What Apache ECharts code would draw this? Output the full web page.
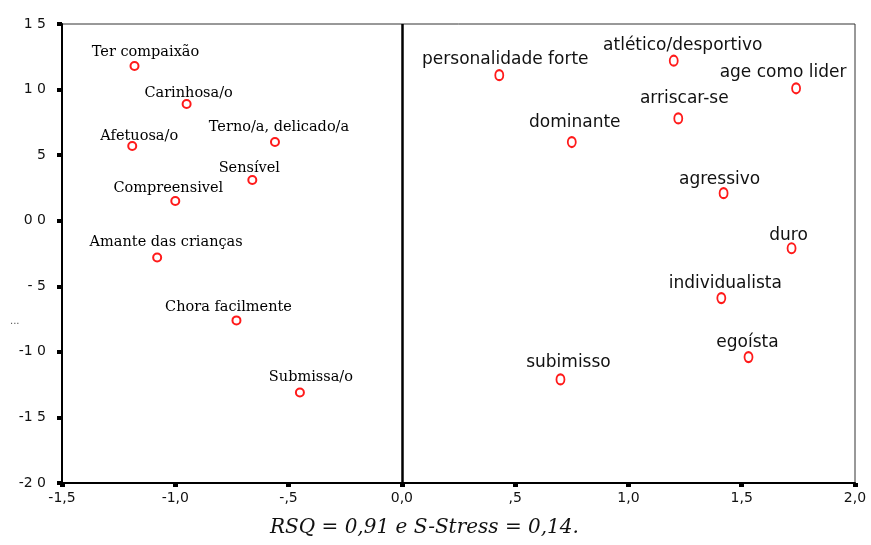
<!DOCTYPE html>
<html>
<head>
<meta charset="utf-8">
<script src="https://cdn.jsdelivr.net/npm/echarts@6/dist/echarts.min.js"></script>
<style>html,body{margin:0;padding:0;background:#fff}#c{width:871px;height:545px}</style>
</head>
<body>
<div id="c"></div>
<script>
// Feminine-typed attributes (serif labels)
const femTerms = ['Ter compaixão','Carinhosa/o','Terno/a, delicado/a','Afetuosa/o','Sensível','Compreensivel','Amante das crianças','Chora facilmente','Submissa/o'];
const femX = [-1.18,-0.95,-0.56,-1.19,-0.66,-1.00,-1.08,-0.73,-0.45];
const femY = [1.18,0.89,0.60,0.57,0.31,0.15,-0.28,-0.76,-1.31];
// Masculine-typed attributes (sans labels)
const mascTerms = ['personalidade forte','atlético/desportivo','age como lider','arriscar-se','dominante','agressivo','duro','individualista','egoísta','subimisso'];
const mascX = [0.43,1.20,1.74,1.22,0.75,1.42,1.72,1.41,1.53,0.70];
const mascY = [1.11,1.22,1.01,0.78,0.60,0.21,-0.21,-0.59,-1.04,-1.21];
// Tick labels as printed
const xTickValues = [-1.5,-1.0,-0.5,0,0.5,1.0,1.5,2.0];
const xTickLabels = ['-1,5','-1,0','-,5','0,0',',5','1,0','1,5','2,0'];
const yTickValues = [-2.0,-1.5,-1.0,-0.5,0,0.5,1.0,1.5];
const yTickLabels = ['-2 0','-1 5','-1 0','- 5','0 0','5','1 0','1 5'];
const caption = 'RSQ = 0,91 e S-Stress = 0,14.';

// label offsets (style only)
const femOffsets = [[11,-14],[2,-11],[4,-15],[7,-10],[-3,-12],[-7,-13],[9,-15],[-8,-13],[11,-15]];
const mascOffsets = [[6,-16],[9,-15],[-13,-16],[6,-20],[3,-19],[-4,-14],[-3,-13],[4,-15],[-1,-15],[8,-17]];

function lookup(vals, labs, v){
  for (let i=0;i<vals.length;i++) if (Math.abs(vals[i]-v)<1e-6) return labs[i];
  return '';
}
function build(terms, xs, ys, offs){
  return terms.map((t,i)=>({name:t, value:[xs[i],ys[i]], label:{offset:offs[i]}}));
}

const chart = echarts.init(document.getElementById('c'), null, {renderer:'canvas'});
const markerStyle = {color:'#ff1a1a', borderColor:'#ff1a1a', borderWidth:1.5, opacity:1};
chart.setOption({
  animation:false,
  backgroundColor:'#fff',
  grid:{left:62,right:16,top:24,bottom:62,show:true,borderColor:'#333',borderWidth:1,backgroundColor:'transparent'},
  xAxis:{type:'value',min:-1.5,max:2.0,interval:0.5,
    axisLine:{show:true,onZero:false,lineStyle:{color:'#000',width:2}},
    axisTick:{show:true,length:4,lineStyle:{color:'#000',width:5}},
    splitLine:{show:false},
    axisLabel:{margin:8,color:'#111',fontFamily:'DejaVu Sans',fontSize:14,formatter:v=>lookup(xTickValues,xTickLabels,v)}},
  yAxis:{type:'value',min:-2.0,max:1.5,interval:0.5,
    axisLine:{show:true,onZero:false,lineStyle:{color:'#000',width:2}},
    axisTick:{show:true,length:5,lineStyle:{color:'#000',width:4}},
    splitLine:{show:false},
    axisLabel:{margin:16,color:'#111',fontFamily:'DejaVu Sans',fontSize:14,formatter:v=>lookup(yTickValues,yTickLabels,v)}},
  series:[
    {type:'scatter',symbol:'emptyCircle',symbolSize:[8,8],itemStyle:markerStyle,
     emphasis:{disabled:true},
     data:build(femTerms,femX,femY,femOffsets),
     label:{show:true,position:'inside',formatter:'{b}',color:'#000',opacity:1,fontFamily:'DejaVu Serif',fontSize:14.5},
     markLine:{silent:true,symbol:'none',label:{show:false},lineStyle:{color:'#000',width:2.5,type:'solid'},data:[{xAxis:0}]}},
    {type:'scatter',symbol:'emptyCircle',symbolSize:[8,10],itemStyle:markerStyle,
     emphasis:{disabled:true},
     data:build(mascTerms,mascX,mascY,mascOffsets),
     label:{show:true,position:'inside',formatter:'{b}',color:'#111',opacity:1,fontFamily:'DejaVu Sans',fontSize:17}}
  ],
  graphic:[
    {type:'text',left:270,top:518,style:{text:caption,font:'italic 20px "DejaVu Serif"',fill:'#111'}},
    {type:'text',left:10,top:316,style:{text:'...',font:'10px "DejaVu Sans"',fill:'#555'}}
  ]
});
</script>
</body>
</html>
